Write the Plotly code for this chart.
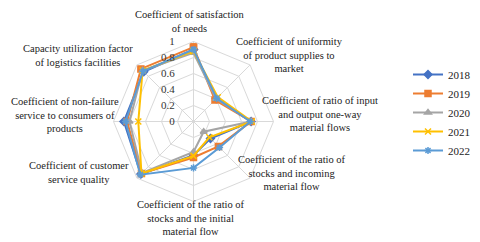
import plotly.graph_objects as go

categories = [
    "Coefficient of satisfaction<br>of needs",
    "Coefficient of uniformity<br>of product supplies to<br>market",
    "Coefficient of ratio of input<br>and output one-way<br>material flows",
    "Coefficient of the ratio of<br>stocks and incoming<br>material flow",
    "Coefficient of the ratio of<br>stocks and the initial<br>material flow",
    "Coefficient of customer<br>service quality",
    "Coefficient of non-failure<br>service to consumers of<br>products",
    "Capacity utilization factor<br>of logistics facilities",
]
years = ["2018", "2019", "2020", "2021", "2022"]
v2018 = [0.90, 0.40, 0.72, 0.30, 0.42, 0.93, 0.87, 0.88]
v2019 = [0.93, 0.38, 0.72, 0.44, 0.45, 0.92, 0.83, 0.93]
v2020 = [0.86, 0.40, 0.72, 0.18, 0.38, 0.91, 0.80, 0.90]
v2021 = [0.88, 0.43, 0.73, 0.28, 0.43, 0.92, 0.69, 0.90]
v2022 = [0.90, 0.41, 0.71, 0.46, 0.58, 0.94, 0.85, 0.89]
radial_ticks = [0, 0.2, 0.4, 0.6, 0.8, 1]
radial_labels = ["0", "0.2", "0.4", "0.6", "0.8", "1"]

series = [v2018, v2019, v2020, v2021, v2022]
colors = ["#4472C4", "#ED7D31", "#A5A5A5", "#FFC000", "#5B9BD5"]
symbols = ["diamond", "square", "triangle-up", "x-thin", "asterisk"]

FONT = "Liberation Serif, Times New Roman, serif"
PAD = "\u00a0" * 6
fig = go.Figure()
for name, vals, c, s in zip(years, series, colors, symbols):
    fig.add_trace(go.Scatterpolar(
        r=vals + vals[:1], theta=categories + categories[:1],
        mode="lines+markers", name=name,
        line=dict(color=c, width=2),
        marker=dict(symbol=s, size=6, color=c, line=dict(color=c, width=1.5)),
    ))

W, H = 480, 242
cx, cy, R = 185.5, 113.5, 80
fig.update_layout(
    width=W, height=H,
    margin=dict(l=0, r=0, t=0, b=0),
    paper_bgcolor="white", plot_bgcolor="white",
    font=dict(family=FONT, size=10.5, color="#222"),
    polar=dict(
        domain=dict(x=[(cx - R) / W, (cx + R) / W], y=[1 - (cy + R) / H, 1 - (cy - R) / H]),
        gridshape="linear",
        bgcolor="white",
        radialaxis=dict(range=[0, 1], tickvals=radial_ticks, ticktext=[t + PAD for t in radial_labels],
                        angle=90, tickangle=90, showline=False, gridcolor="#D9D9D9", ticks="",
                        tickfont=dict(family=FONT, size=11, color="#333"), side="counterclockwise"),
        angularaxis=dict(direction="clockwise", rotation=90, showticklabels=False, ticks="",
                         gridcolor="#D9D9D9", linecolor="#D9D9D9", linewidth=1),
    ),
    legend=dict(x=400 / W, y=1 - 52 / H, xanchor="left", yanchor="top",
                font=dict(family=FONT, size=11, color="#222"), tracegroupgap=0, itemwidth=30,
                bgcolor="rgba(0,0,0,0)"),
    showlegend=True,
)

label_pos = [(182, 13), (281, 47), (312, 106), (284, 165), (183, 210), (71, 164), (57, 107), (70, 47)]
for txt, (x, y) in zip(categories, label_pos):
    fig.add_annotation(x=x / W, y=1 - y / H, xref="paper", yref="paper", text=txt,
                       showarrow=False, xanchor="center", yanchor="middle", align="center",
                       font=dict(family=FONT, size=10.5, color="#222"))

fig.write_html("out.html")
